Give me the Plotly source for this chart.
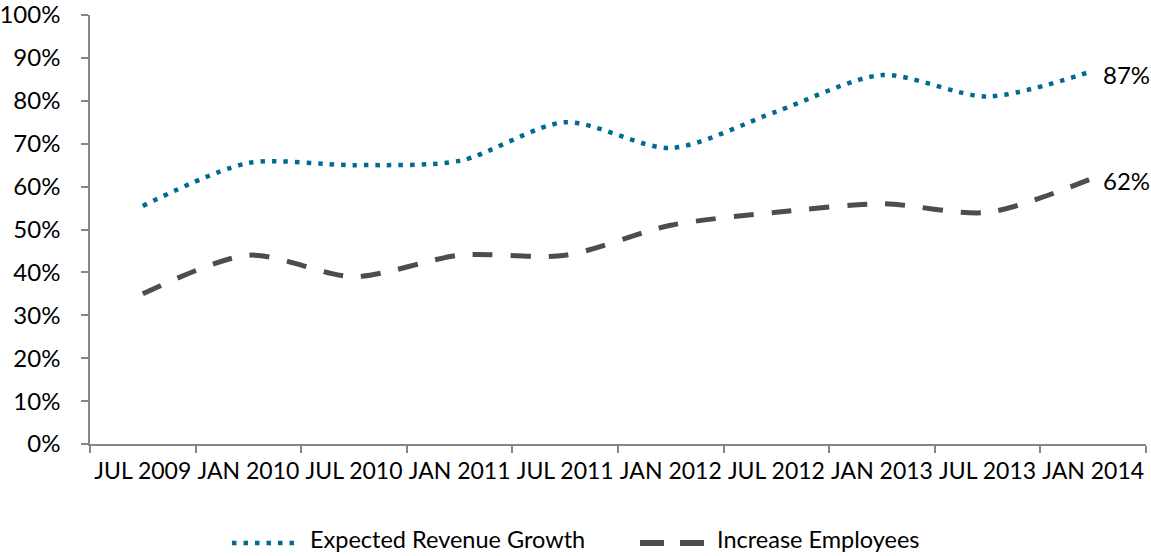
import plotly.graph_objects as go

# Survey periods and share of respondents (%)
periods = ["JUL 2009", "JAN 2010", "JUL 2010", "JAN 2011", "JUL 2011",
           "JAN 2012", "JUL 2012", "JAN 2013", "JUL 2013", "JAN 2014"]
revenue_growth = [55.5, 65.5, 65, 66, 75, 69, 77.5, 86, 81, 87]
increase_employees = [35, 44, 39, 44, 44, 51, 54, 56, 54, 62]
y_ticks = [0, 10, 20, 30, 40, 50, 60, 70, 80, 90, 100]

BLUE = "#006a92"
GREY = "#4d4d4d"
AXIS = "#868686"
FONT = "Lato, 'Open Sans', sans-serif"
FS = 24

fig = go.Figure()
fig.add_trace(go.Scatter(
    x=periods, y=revenue_growth, mode="lines", name="Expected Revenue Growth",
    line=dict(color=BLUE, width=4.5, dash="4.5px,7px", shape="spline", smoothing=0.8),
    showlegend=False))
fig.add_trace(go.Scatter(
    x=periods, y=increase_employees, mode="lines", name="Increase Employees",
    line=dict(color=GREY, width=5, dash="20px,18px", shape="spline", smoothing=0.8),
    showlegend=False))

# End-of-line value labels
for series, yshift in ((revenue_growth, -4), (increase_employees, -2)):
    fig.add_annotation(x=periods[-1], y=series[-1], xref="x", yref="y",
                       text=f"{series[-1]:g}%", showarrow=False,
                       xanchor="left", yanchor="middle", xshift=8, yshift=yshift,
                       font=dict(size=FS, color="#000000", family=FONT))

# Legend drawn below the plot
W, H = 1056.0, 429.0
def px(xp):
    return (xp - 90) / W
def py(yp):
    return (444 - yp) / H

sample_y = py(543)
text_y = py(539)
fig.add_shape(type="line", xref="paper", yref="paper",
              x0=px(232), x1=px(300), y0=sample_y, y1=sample_y,
              line=dict(color=BLUE, width=4.5, dash="4.5px,7px"))
fig.add_annotation(xref="paper", yref="paper", x=px(308), y=text_y,
                   text="Expected Revenue Growth", showarrow=False,
                   xanchor="left", yanchor="middle",
                   font=dict(size=23.5, color="#000000", family=FONT))
fig.add_shape(type="line", xref="paper", yref="paper",
              x0=px(640), x1=px(704), y0=sample_y, y1=sample_y,
              line=dict(color=GREY, width=6, dash="24px,16px"))
fig.add_annotation(xref="paper", yref="paper", x=px(715), y=text_y,
                   text="Increase Employees", showarrow=False,
                   xanchor="left", yanchor="middle",
                   font=dict(size=23.5, color="#000000", family=FONT))

fig.update_layout(
    width=1151, height=556,
    margin=dict(l=90, r=5, t=15, b=112, autoexpand=False),
    paper_bgcolor="white", plot_bgcolor="white",
    font=dict(family=FONT, size=FS, color="#000000"),
    showlegend=False,
)
fig.update_xaxes(
    type="category", range=[-0.5, 9.5], tickson="boundaries",
    showline=True, linecolor=AXIS, linewidth=1.5,
    ticks="outside", ticklen=7, tickcolor=AXIS, tickwidth=1.5,
    showgrid=False, zeroline=False, ticklabelstandoff=6,
    tickangle=0, automargin=False, ticklabeloverflow="allow",
    tickfont=dict(size=23, family=FONT, color="#000000"),
)
fig.update_yaxes(
    range=[0, 100], tickvals=y_ticks, ticktext=[f"{v}%" for v in y_ticks],
    showline=True, linecolor=AXIS, linewidth=1.5,
    ticks="outside", ticklen=7, tickcolor=AXIS, tickwidth=1.5,
    showgrid=False, zeroline=False, ticklabelstandoff=16, automargin=False,
    ticklabeloverflow="allow",
    tickfont=dict(size=FS, family=FONT, color="#000000"),
)

fig.write_html("out.html")
